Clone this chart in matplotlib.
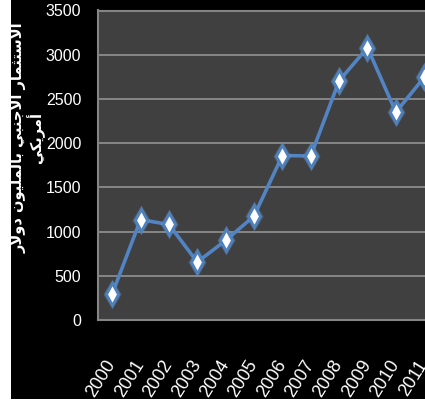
import matplotlib
matplotlib.use('Agg')
import matplotlib.pyplot as plt
from matplotlib.patches import Rectangle

# Foreign investment per year (million USD)
years = ['2000', '2001', '2002', '2003', '2004', '2005',
         '2006', '2007', '2008', '2009', '2010', '2011']
investment = [295, 1135, 1080, 655, 900, 1175, 1860, 1855, 2705, 3080, 2350, 2745]
y_ticks = [0, 500, 1000, 1500, 2000, 2500, 3000, 3500]
y_label_lines = ['الاستثمار الأجنبي بالمليون دولار', 'أمريكي']

# Arabic presentation forms: isolated, final, initial, medial
FORMS = {
    'ا': ('\uFE8D', '\uFE8E', None, None),
    'أ': ('\uFE83', '\uFE84', None, None),
    'ب': ('\uFE8F', '\uFE90', '\uFE91', '\uFE92'),
    'ت': ('\uFE95', '\uFE96', '\uFE97', '\uFE98'),
    'ث': ('\uFE99', '\uFE9A', '\uFE9B', '\uFE9C'),
    'ج': ('\uFE9D', '\uFE9E', '\uFE9F', '\uFEA0'),
    'د': ('\uFEA9', '\uFEAA', None, None),
    'ر': ('\uFEAD', '\uFEAE', None, None),
    'س': ('\uFEB1', '\uFEB2', '\uFEB3', '\uFEB4'),
    'ك': ('\uFED9', '\uFEDA', '\uFEDB', '\uFEDC'),
    'ل': ('\uFEDD', '\uFEDE', '\uFEDF', '\uFEE0'),
    'م': ('\uFEE1', '\uFEE2', '\uFEE3', '\uFEE4'),
    'ن': ('\uFEE5', '\uFEE6', '\uFEE7', '\uFEE8'),
    'و': ('\uFEED', '\uFEEE', None, None),
    'ي': ('\uFEF1', '\uFEF2', '\uFEF3', '\uFEF4'),
}
LAM_ALEF = {'ا': ('\uFEFB', '\uFEFC'), 'أ': ('\uFEF7', '\uFEF8')}


def dual(ch):
    return ch in FORMS and FORMS[ch][2] is not None


def shape(text):
    # join letters and reverse so the line reads right to left
    out = []
    i = 0
    while i < len(text):
        ch = text[i]
        prev = text[i - 1] if i > 0 else ' '
        join_prev = dual(prev)
        if ch == 'ل' and i + 1 < len(text) and text[i + 1] in LAM_ALEF:
            out.append(LAM_ALEF[text[i + 1]][1 if join_prev else 0])
            i += 2
            continue
        if ch not in FORMS:
            out.append(ch)
            i += 1
            continue
        nxt = text[i + 1] if i + 1 < len(text) else ' '
        join_next = dual(ch) and nxt in FORMS
        iso, fin, ini, med = FORMS[ch]
        if join_prev and join_next:
            out.append(med)
        elif join_prev:
            out.append(fin)
        elif join_next:
            out.append(ini)
        else:
            out.append(iso)
        i += 1
    return ''.join(reversed(out))


num_font = 'Liberation Sans'

fig = plt.figure(figsize=(4.25, 4.05), dpi=100, facecolor='white')
fig.patches.append(Rectangle((11 / 425, 6 / 405), 1, 1, transform=fig.transFigure,
                             facecolor='black', edgecolor='none', zorder=-5))

ax = fig.add_axes([98 / 425, 85 / 405, 337 / 425, 309.5 / 405])
ax.set_facecolor('#404040')
for side in ax.spines.values():
    side.set_color('#858585')
    side.set_linewidth(1.5)

x = list(range(len(years)))
ax.plot(x, investment, color='#5283c2', linewidth=2.6, zorder=3)
ax.plot(x, investment, linestyle='none', marker='d', markersize=15,
        markerfacecolor='#6fa0e0', markeredgecolor='none', alpha=0.35, zorder=4)
ax.plot(x, investment, linestyle='none', marker='d', markersize=11,
        markerfacecolor='white', markeredgecolor='#4f81bd', markeredgewidth=2, zorder=5)

ax.set_xlim(-0.5, 11.38)
ax.set_ylim(0, 3500)
ax.set_yticks(y_ticks)
ax.set_yticklabels([str(v) for v in y_ticks], color='white', fontsize=11.5, family=num_font)
ax.yaxis.grid(True, color='#8c8c8c', linewidth=1.3)
ax.set_axisbelow(True)

ax.set_xticks(x)
ax.set_xticklabels(years, color='white', fontsize=13, family=num_font,
                   rotation=58, ha='right', va='center', rotation_mode='anchor')
ax.tick_params(axis='both', length=0)
ax.tick_params(axis='x', pad=30)
ax.tick_params(axis='y', pad=12)

label = '\n'.join(shape(line) for line in y_label_lines)
fig.text(27 / 425, 1 - 138 / 405, label, rotation=90, color='white', fontsize=10.5,
         fontweight='bold', family='DejaVu Sans', ha='center', va='center',
         multialignment='center', linespacing=0.95)

fig.savefig('out.png', dpi=100, facecolor=fig.get_facecolor())
